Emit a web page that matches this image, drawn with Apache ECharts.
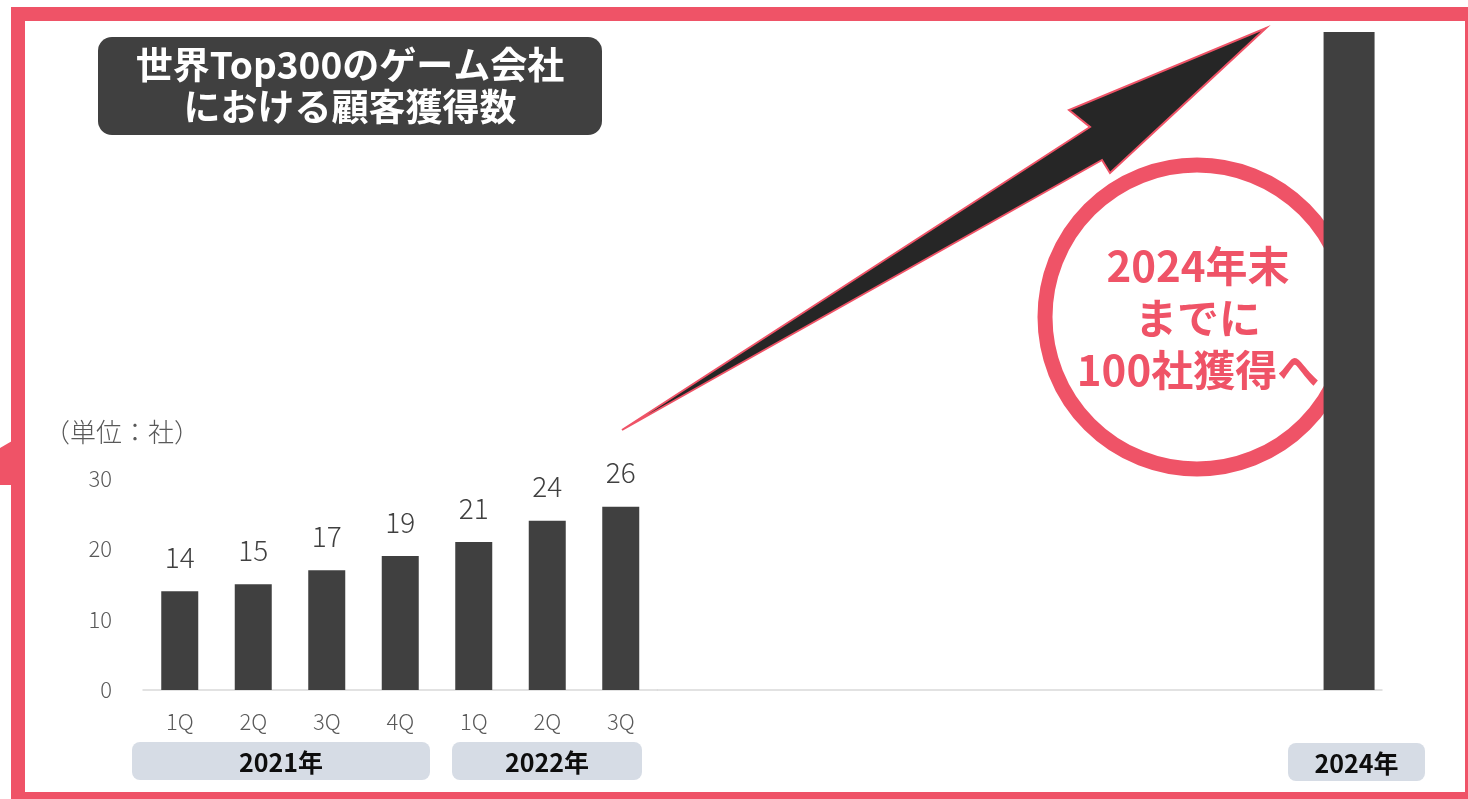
<!DOCTYPE html>
<html><head><meta charset="utf-8">
<script src="https://cdn.jsdelivr.net/npm/echarts@6/dist/echarts.min.js"></script>
<style>html,body{margin:0;padding:0;background:#fff}#c{width:1468px;height:799px}</style>
</head><body><div id="c"></div>
<script>
// ---- data ----
const years = ['2021', '2021', '2021', '2021', '2022', '2022', '2022'];
const quarters = ['1Q', '2Q', '3Q', '4Q', '1Q', '2Q', '3Q'];
const clients = [14, 15, 17, 19, 21, 24, 26];
const targetSlots = ['s1', 's2', 's3', 's4', 's5', 's6', 's7', 's8', 's9', 's10', '2024'];
const targetValues = [null, null, null, null, null, null, null, null, null, null, 100];
const yTicks = [0, 10, 20, 30];
const yearLabels = ['2021年', '2022年', '2024年'];
const titleText = '世界Top300のゲーム会社\nにおける顧客獲得数';
const unitText = '（単位：社）';
const goalText = '2024年末\nまでに\n100社獲得へ';

const PINK = '#EF5367';
const DARK = '#404040';
const FONT = '"Noto Sans CJK JP", "Noto Sans", sans-serif';

const categories = years.map((y, i) => y + ' ' + quarters[i]);

const chart = echarts.init(document.getElementById('c'), null, { renderer: 'canvas' });

const yearBoxes = [
  { x: 132, y: 742, w: 298, h: 38 },
  { x: 452, y: 742, w: 190, h: 38 },
  { x: 1288, y: 743, w: 137, h: 38 }
];

const graphics = [
  // frame
  { type: 'rect', z: 0, silent: true, shape: { x: 18, y: 14, width: 1454, height: 785 },
    style: { fill: 'none', stroke: PINK, lineWidth: 14 } },
  { type: 'polygon', z: 0, silent: true, shape: { points: [[0, 448], [12, 441], [12, 485], [0, 485]] },
    style: { fill: PINK } },
  // title box
  { type: 'rect', z: 0, shape: { x: 98, y: 37, width: 504, height: 98, r: 14 }, style: { fill: DARK } },
  { type: 'text', z: 1, style: { text: titleText, x: 350, y: 86, align: 'center', verticalAlign: 'middle',
      textAlign: 'center', textVerticalAlign: 'middle',
      fill: '#ffffff', fontSize: 37, fontWeight: 'bold', fontFamily: FONT, lineHeight: 42 } },
  // unit
  { type: 'text', z: 1, style: { text: unitText, x: 44, y: 432, verticalAlign: 'middle', textVerticalAlign: 'middle',
      fill: '#595959', fontSize: 26, fontWeight: 300, fontFamily: FONT } },
  // arrow
  { type: 'polygon', z: 0, silent: true,
    shape: { points: [[622, 430], [1090, 127], [1069, 110], [1266, 28], [1110, 173], [1102, 160]] },
    style: { fill: '#262626', stroke: PINK, lineWidth: 2, lineJoin: 'miter' } },
  // circle
  { type: 'circle', z: 0, silent: true, shape: { cx: 1197, cy: 317, r: 152 },
    style: { fill: '#ffffff', stroke: PINK, lineWidth: 15 } },
  { type: 'text', z: 1, style: { text: goalText, x: 1198, y: 318, align: 'center', verticalAlign: 'middle',
      textAlign: 'center', textVerticalAlign: 'middle',
      fill: PINK, fontSize: 42, fontWeight: 'bold', fontFamily: FONT, lineHeight: 52 } }
];

yearBoxes.forEach((b, i) => {
  graphics.push({ type: 'rect', z: 0, shape: { x: b.x, y: b.y, width: b.w, height: b.h, r: 8 },
    style: { fill: '#D6DCE5' } });
  graphics.push({ type: 'text', z: 1, style: { text: yearLabels[i], x: b.x + b.w / 2, y: b.y + b.h / 2 + 1,
      align: 'center', verticalAlign: 'middle', textAlign: 'center', textVerticalAlign: 'middle',
      fill: '#0d0d0d', fontSize: 25, fontWeight: 'bold', fontFamily: FONT } });
});

const option = {
  backgroundColor: '#ffffff',
  animation: false,
  textStyle: { fontFamily: FONT },
  graphic: { elements: graphics },
  grid: [
    { left: 143, top: 478.5, width: 514.5, height: 211.5 },
    { left: 657.5, top: 32, width: 724.5, height: 658 }
  ],
  xAxis: [
    { type: 'category', gridIndex: 0, data: categories,
      axisLine: { lineStyle: { color: '#D9D9D9', width: 1.5 } },
      axisTick: { show: false },
      axisLabel: { margin: 21, color: '#595959', fontSize: 22, fontWeight: 300, fontFamily: FONT,
        formatter: v => v.split(' ')[1] } },
    { type: 'category', gridIndex: 1, data: targetSlots,
      axisLine: { lineStyle: { color: '#D9D9D9', width: 1.5 } },
      axisTick: { show: false }, axisLabel: { show: false } }
  ],
  yAxis: [
    { type: 'value', gridIndex: 0, min: yTicks[0], max: yTicks[yTicks.length - 1], interval: 10,
      axisLine: { show: false }, axisTick: { show: false }, splitLine: { show: false },
      axisLabel: { margin: 31, color: '#595959', fontSize: 22, fontWeight: 300, fontFamily: FONT } },
    { type: 'value', gridIndex: 1, min: 0, max: 100, show: false, splitLine: { show: false } }
  ],
  series: [
    { type: 'bar', xAxisIndex: 0, yAxisIndex: 0, data: clients, barWidth: 37, z: 2,
      itemStyle: { color: DARK },
      label: { show: true, position: 'top', distance: 20, color: DARK, fontSize: 28, fontWeight: 300, fontFamily: FONT } },
    { type: 'bar', xAxisIndex: 1, yAxisIndex: 1, data: targetValues, barWidth: 51, z: 2,
      itemStyle: { color: DARK } }
  ]
};
chart.setOption(option);
</script>
</body></html>
